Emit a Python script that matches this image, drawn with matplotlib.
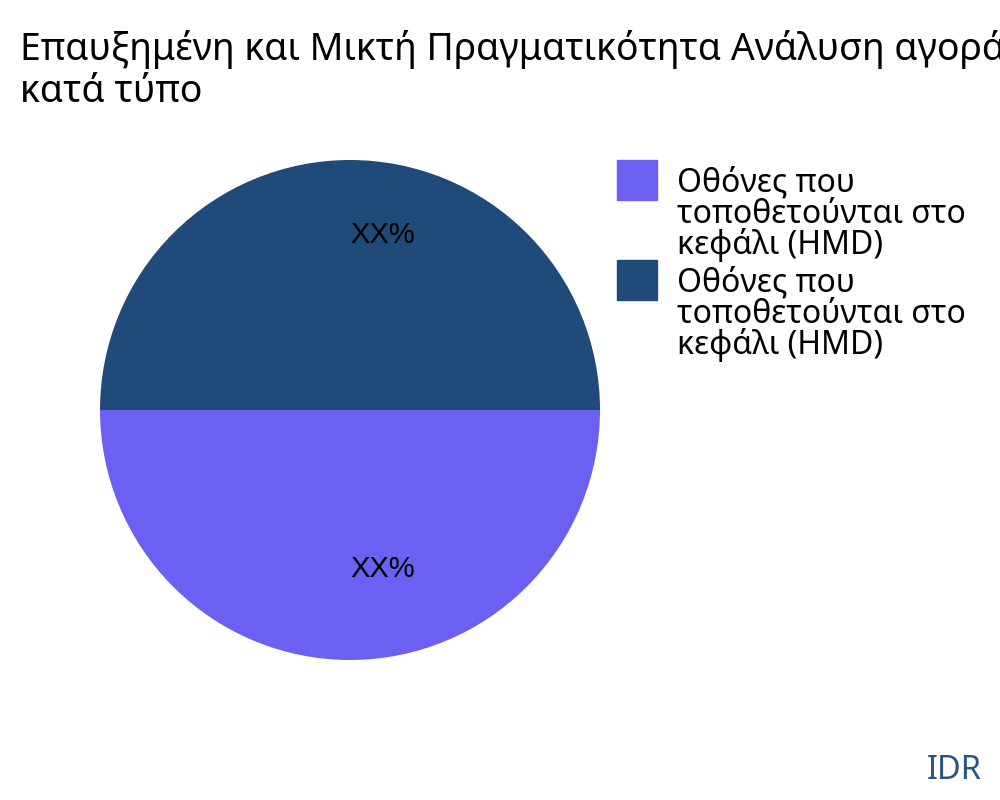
import numpy as np
import matplotlib.pyplot as plt
from matplotlib.patches import Rectangle

# chart data
title = "Επαυξημένη και Μικτή Πραγματικότητα Ανάλυση αγοράς\nκατά τύπο"
labels = ["Οθόνες που\nτοποθετούνται στο\nκεφάλι (HMD)",
          "Οθόνες που\nτοποθετούνται στο\nκεφάλι (HMD)"]
values = [50, 50]
pct_text = ["XX%", "XX%"]
colors = ["#6c60f2", "#1f4a7a"]

fig = plt.figure(figsize=(10, 8), dpi=100)
fig.patch.set_facecolor("white")

ax = fig.add_axes([0.1, 0.175, 0.5, 0.625])
wedges, _ = ax.pie(values, colors=colors, startangle=180, counterclock=True,
                   radius=1, wedgeprops=dict(linewidth=0))
ax.set_xlim(-1, 1)
ax.set_ylim(-1, 1)
ax.set_aspect("equal")
ax.axis("off")

# percentage labels, left-aligned at the centre line like the source
for w, t in zip(wedges, pct_text):
    mid = np.deg2rad((w.theta1 + w.theta2) / 2)
    ax.text(0.66 * np.cos(mid), 0.668 * np.sin(mid), t, ha="left", va="baseline",
            fontsize=21, family="Liberation Sans", color="black")

# title runs off the right edge in the source, keep it that way
fig.text(0.02, 0.962, title, ha="left", va="top", fontsize=26.9,
         family="Noto Sans", linespacing=1.12)

# legend drawn by hand
for i, (lab, c) in enumerate(zip(labels, colors)):
    top = 160 + 100 * i
    fig.patches.append(Rectangle((617 / 1000, 1 - (top + 40) / 800), 0.04, 0.05,
                                 transform=fig.transFigure, color=c))
    fig.text(677 / 1000, 1 - (top + 7) / 800, lab, ha="left", va="top",
             fontsize=23, family="Noto Sans", linespacing=0.91)

fig.text(0.982, 0.026, "IDR", ha="right", va="baseline", fontsize=23.5,
         family="Noto Sans", color="#2b5580")

fig.savefig("out.png", dpi=100)
